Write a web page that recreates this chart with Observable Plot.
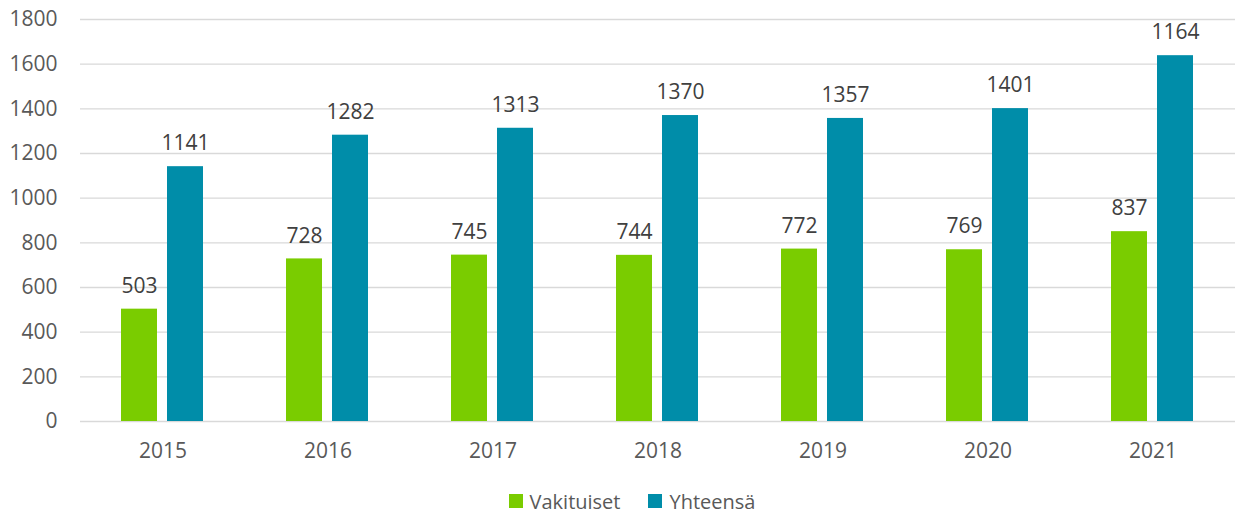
<!DOCTYPE html>
<html>
<head>
<meta charset="utf-8">
<script src="https://cdn.jsdelivr.net/npm/d3@7"></script>
<script src="https://cdn.jsdelivr.net/npm/@observablehq/plot@0.6"></script>
<style>
  html, body { margin: 0; padding: 0; background: #fff; }
  #chart { width: 1236px; }
  #chart svg { display: block; }
  .legend { display: flex; justify-content: center; align-items: center; height: 28px; padding-top: 7px; padding-left: 28px;
            font-family: "Open Sans", sans-serif; font-size: 20px; color: #595959; }
  .legend .item { display: flex; align-items: center; margin: 0 14px; }
  .legend .sw { width: 14px; height: 14px; margin-right: 7px; }
</style>
</head>
<body>
<div id="chart"></div>
<script>
const years = ["2015", "2016", "2017", "2018", "2019", "2020", "2021"];
const series = ["Vakituiset", "Yhteensä"];
const colors = ["#7ACC00", "#008DA9"];
const vakituiset = [503, 728, 745, 744, 772, 769, 850];
const yhteensa = [1141, 1282, 1313, 1370, 1357, 1401, 1638];
const vakituisetLabels = ["503", "728", "745", "744", "772", "769", "837"];
const yhteensaLabels = ["1141", "1282", "1313", "1370", "1357", "1401", "1164"];
const yTicks = [0, 200, 400, 600, 800, 1000, 1200, 1400, 1600, 1800];

const data = years.flatMap((yr, i) => [
  {year: yr, series: series[0], value: vakituiset[i], label: vakituisetLabels[i]},
  {year: yr, series: series[1], value: yhteensa[i], label: yhteensaLabels[i]}
]);

const chart = Plot.plot({
  width: 1236,
  height: 480,
  marginLeft: 79,
  marginRight: 0,
  marginTop: 19,
  marginBottom: 59,
  style: {fontFamily: "Open Sans, sans-serif", fontSize: "21px", color: "#595959", background: "white"},
  fx: {domain: years, padding: 0, label: null, tickSize: 0, tickPadding: 22, axis: "bottom"},
  x: {domain: series, paddingInner: 0.213, paddingOuter: 0.865, axis: null},
  y: {domain: [0, 1800], ticks: yTicks, tickFormat: d => String(d), tickSize: 0, tickPadding: 23, label: null},
  color: {domain: series, range: colors},
  marks: [
    Plot.ruleY(yTicks, {stroke: "#d9d9d9", strokeWidth: 1.3}),
    Plot.barY(data, {fx: "year", x: "series", y: "value", fill: "series"}),
    Plot.text(data, {fx: "year", x: "series", y: "value", text: "label", dy: -23, fill: "#404040", fontSize: 21})
  ]
});
document.getElementById("chart").appendChild(chart);

const legend = document.createElement("div");
legend.className = "legend";
series.forEach((s, i) => {
  const item = document.createElement("div");
  item.className = "item";
  const sw = document.createElement("span");
  sw.className = "sw";
  sw.style.background = colors[i];
  const t = document.createElement("span");
  t.textContent = s;
  item.appendChild(sw);
  item.appendChild(t);
  legend.appendChild(item);
});
document.getElementById("chart").appendChild(legend);
</script>
</body>
</html>
